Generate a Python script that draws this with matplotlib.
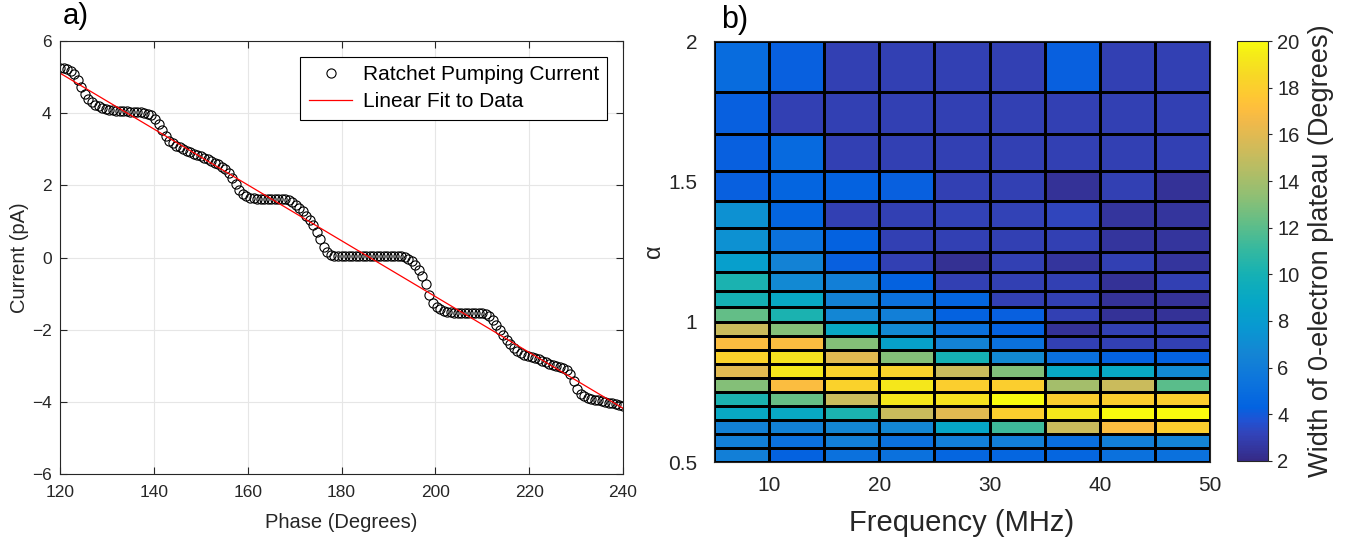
"""Ratchet pumping current vs phase, and 0-electron plateau width map."""

import matplotlib as mpl
import matplotlib.pyplot as plt
import numpy as np
from matplotlib.colors import LinearSegmentedColormap

# ---- panel a: pumping current (pA) sampled every 0.75 degrees from 120 to 240
CURRENT = [
    5.26, 5.24, 5.22, 5.18, 5.08, 4.92, 4.72, 4.52, 4.38, 4.30,
    4.24, 4.19, 4.15, 4.12, 4.10, 4.08, 4.07, 4.06, 4.05, 4.05,
    4.04, 4.04, 4.03, 4.02, 4.01, 3.99, 3.95, 3.85, 3.70, 3.52,
    3.36, 3.24, 3.16, 3.10, 3.05, 3.00, 2.96, 2.92, 2.88, 2.84,
    2.80, 2.76, 2.72, 2.68, 2.63, 2.58, 2.52, 2.45, 2.35, 2.20,
    2.03, 1.86, 1.76, 1.70, 1.66, 1.64, 1.63, 1.62, 1.62, 1.62,
    1.62, 1.62, 1.62, 1.61, 1.61, 1.59, 1.54, 1.46, 1.37, 1.28,
    1.16, 1.04, 0.89, 0.70, 0.50, 0.30, 0.14, 0.07, 0.04, 0.03,
    0.03, 0.03, 0.03, 0.03, 0.03, 0.03, 0.03, 0.04, 0.04, 0.04,
    0.04, 0.05, 0.05, 0.05, 0.05, 0.05, 0.05, 0.04, 0.02, -0.03,
    -0.10, -0.20, -0.34, -0.52, -0.74, -1.05, -1.26, -1.36, -1.43, -1.47,
    -1.50, -1.52, -1.53, -1.54, -1.55, -1.55, -1.55, -1.54, -1.53, -1.53,
    -1.54, -1.57, -1.63, -1.73, -1.86, -2.00, -2.14, -2.28, -2.40, -2.52,
    -2.60, -2.65, -2.69, -2.72, -2.75, -2.78, -2.82, -2.86, -2.90, -2.94,
    -2.97, -3.00, -3.03, -3.07, -3.12, -3.22, -3.42, -3.64, -3.78, -3.85,
    -3.89, -3.92, -3.94, -3.96, -3.98, -4.00, -4.02, -4.04, -4.06, -4.09,
    -4.12,
]
PHASE_RANGE = (120, 240)

# ---- panel b: plateau width (degrees), rows listed from top (alpha=2) down
FREQ_EDGES = [5, 10, 15, 20, 25, 30, 35, 40, 45, 50]
ALPHA_EDGES = [0.5, 0.55, 0.6, 0.65, 0.7, 0.75, 0.8, 0.85, 0.9, 0.95, 1.0,
               1.053, 1.111, 1.176, 1.25, 1.333, 1.429, 1.538, 1.667, 1.818, 2.0]
WIDTH_TOP_DOWN = [
    [4.9, 4.2, 3.0, 3.0, 3.0, 3.0, 4.2, 3.0, 3.0],
    [4.2, 3.0, 3.0, 3.0, 3.0, 3.0, 3.0, 3.0, 3.0],
    [4.2, 4.8, 3.0, 3.0, 3.0, 3.0, 3.0, 3.0, 3.0],
    [4.2, 4.4, 4.3, 4.2, 3.0, 3.0, 2.4, 3.0, 2.4],
    [7.3, 4.4, 3.0, 3.0, 3.1, 3.1, 3.2, 2.5, 2.5],
    [7.3, 5.2, 4.3, 3.0, 3.0, 3.0, 3.0, 2.5, 2.5],
    [8.3, 6.4, 4.2, 3.0, 2.3, 3.0, 2.5, 3.0, 2.5],
    [10.2, 6.8, 6.2, 4.3, 3.0, 3.0, 3.0, 2.4, 3.0],
    [10.0, 9.0, 6.3, 5.2, 4.4, 3.0, 3.0, 2.4, 2.4],
    [12.2, 10.2, 6.7, 6.2, 4.3, 4.2, 3.0, 2.4, 2.4],
    [15.2, 13.1, 9.0, 6.8, 5.2, 4.3, 2.4, 3.0, 3.0],
    [17.0, 17.0, 13.1, 8.4, 6.4, 5.2, 3.0, 3.0, 3.0],
    [18.2, 19.0, 16.0, 13.1, 10.0, 6.8, 5.1, 4.3, 4.3],
    [16.0, 19.2, 18.2, 18.2, 15.2, 13.0, 9.0, 9.0, 6.8],
    [13.1, 17.0, 18.2, 19.2, 18.0, 18.0, 14.0, 15.2, 12.0],
    [10.2, 12.3, 15.2, 19.2, 19.0, 20.0, 18.0, 18.0, 18.0],
    [9.0, 9.0, 10.2, 15.2, 16.0, 18.0, 19.2, 20.0, 20.0],
    [6.3, 6.3, 6.7, 6.7, 8.8, 11.3, 15.2, 17.0, 18.0],
    [6.2, 5.2, 6.2, 5.2, 6.2, 6.2, 5.0, 6.2, 6.5],
    [6.2, 4.3, 5.2, 5.2, 4.5, 4.5, 4.5, 5.2, 5.2],
]

# MATLAB parula, sampled anchors (index out of 63)
PARULA = [
    (0, (0.2081, 0.1663, 0.5292)), (4, (0.1959, 0.2645, 0.7279)),
    (6, (0.1253, 0.3242, 0.8303)), (8, (0.0117, 0.3875, 0.8820)),
    (12, (0.0498, 0.4586, 0.8641)), (16, (0.0793, 0.5200, 0.8312)),
    (20, (0.0343, 0.5966, 0.8199)), (24, (0.0228, 0.6535, 0.7768)),
    (28, (0.0843, 0.6928, 0.7062)), (32, (0.2178, 0.7250, 0.6193)),
    (36, (0.3953, 0.7459, 0.5244)), (40, (0.5709, 0.7485, 0.4494)),
    (44, (0.7184, 0.7411, 0.3905)), (48, (0.8507, 0.7299, 0.3360)),
    (51, (0.9450, 0.7261, 0.2886)), (53, (0.9938, 0.7455, 0.2403)),
    (55, (0.9955, 0.7861, 0.1967)), (58, (0.9697, 0.8481, 0.1475)),
    (61, (0.9598, 0.9218, 0.0948)), (63, (0.9763, 0.9831, 0.0538)),
]

AXIS_GREY = "#262626"

mpl.rcParams.update({
    "font.family": ["Liberation Sans", "DejaVu Sans"],
    "axes.edgecolor": AXIS_GREY,
    "xtick.color": AXIS_GREY,
    "ytick.color": AXIS_GREY,
})


def panel_current(ax):
    current = np.array(CURRENT)
    phase = np.linspace(*PHASE_RANGE, len(current))
    slope, icpt = np.polyfit(phase, current, 1)

    ax.plot(phase, current, "o", ms=6.6, mfc="none", mec="black", mew=0.8,
            label="Ratchet Pumping Current")
    ax.plot(phase, slope * phase + icpt, color="red", lw=0.9,
            label="Linear Fit to Data")

    ax.set_xlim(120, 240)
    ax.set_ylim(-6, 6)
    ax.set_xticks(np.arange(120, 241, 20))
    ax.set_yticks(np.arange(-6, 7, 2))
    ax.grid(True, color="#e6e6e6", lw=0.8)
    ax.set_axisbelow(True)
    ax.tick_params(direction="in", top=True, right=True, length=5, labelsize=12.5,
                   labelcolor=AXIS_GREY)
    ax.tick_params(axis="x", pad=8)
    ax.tick_params(axis="y", pad=6)
    for sp in ax.spines.values():
        sp.set_linewidth(0.8)
    ax.set_xlabel("Phase (Degrees)", fontsize=14.5, color=AXIS_GREY, labelpad=9)
    ax.set_ylabel("Current (pA)", fontsize=14.5, color=AXIS_GREY, labelpad=2)
    leg = ax.legend(loc="upper right", fontsize=15, fancybox=False, framealpha=1,
                    edgecolor="black", borderaxespad=0.75, handlelength=2.1,
                    labelspacing=0.4, borderpad=0.4, handletextpad=0.5)
    leg.get_frame().set_linewidth(0.8)
    ax.text(0.005, 1.025, "a)", transform=ax.transAxes, fontsize=21,
            ha="left", va="bottom")


def panel_width(fig, ax, cax):
    pos = [p / 63 for p, _ in PARULA]
    cmap = LinearSegmentedColormap.from_list("parula", list(zip(pos, [c for _, c in PARULA])))
    width = np.array(WIDTH_TOP_DOWN)[::-1]
    mesh = ax.pcolormesh(FREQ_EDGES, ALPHA_EDGES, width, cmap=cmap, vmin=2, vmax=20,
                         edgecolors="black", linewidth=0.8)
    ax.set_xlim(5, 50)
    ax.set_ylim(0.5, 2)
    ax.set_xticks([10, 20, 30, 40, 50])
    ax.set_yticks([0.5, 1, 1.5, 2])
    ax.set_yticklabels(["0.5", "1", "1.5", "2"])
    ax.tick_params(length=0, labelsize=15, labelcolor=AXIS_GREY)
    ax.tick_params(axis="x", pad=10)
    ax.tick_params(axis="y", pad=12)
    ax.set_xlabel("Frequency (MHz)", fontsize=21, color=AXIS_GREY, labelpad=10)
    ax.set_ylabel("α", fontsize=17, color=AXIS_GREY, labelpad=2)
    ax.text(0.015, 1.015, "b)", transform=ax.transAxes, fontsize=22,
            ha="left", va="bottom")

    cb = fig.colorbar(mesh, cax=cax)
    cb.set_ticks(np.arange(2, 21, 2))
    cb.ax.tick_params(labelsize=14.5, length=3, labelcolor=AXIS_GREY)
    cb.outline.set_linewidth(0.8)
    cb.set_label("Width of 0-electron plateau (Degrees)", fontsize=19.5,
                 color=AXIS_GREY, labelpad=6)


def main():
    fig = plt.figure(figsize=(13.49, 5.42), dpi=100)
    ax_a = fig.add_axes([60 / 1349, 68 / 542, 563 / 1349, 433 / 542])
    ax_b = fig.add_axes([714 / 1349, 80 / 542, 496 / 1349, 421 / 542])
    cax = fig.add_axes([1237 / 1349, 81 / 542, 31 / 1349, 420 / 542])
    panel_current(ax_a)
    panel_width(fig, ax_b, cax)
    fig.savefig("out.png", dpi=100, facecolor="white")


if __name__ == "__main__":
    main()
